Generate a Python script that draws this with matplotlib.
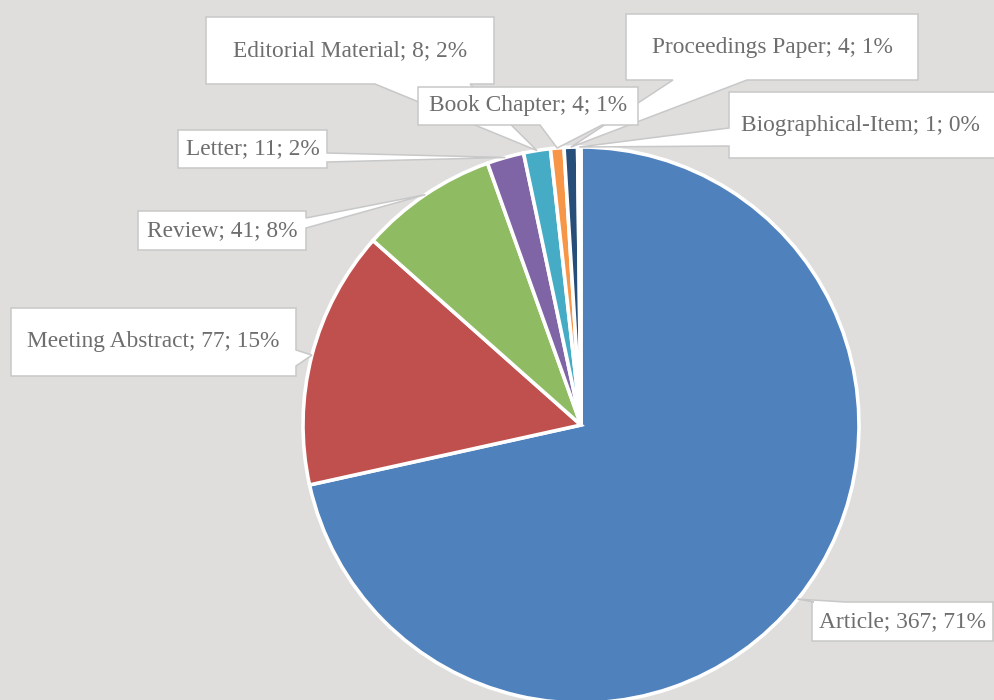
import numpy as np
import matplotlib.pyplot as plt
from matplotlib.patches import Polygon

categories = ["Article", "Meeting Abstract", "Review", "Letter",
              "Editorial Material", "Book Chapter", "Proceedings Paper",
              "Biographical-Item"]
counts = [367, 77, 41, 11, 8, 4, 4, 1]
percents = [71, 15, 8, 2, 2, 1, 1, 0]
colors = ["#4F81BD", "#C0504D", "#8FBB63", "#7F65A5",
          "#46ACC6", "#F79646", "#274E78", "#772C2A"]

W, H = 995, 700
BG = "#DFDEDD"
TXT = "#6E6E6E"
EDGE = "#C8C8C8"
FS = 16.8

# callout layout in pixel coords (top-left origin): box, side of the wedge, wedge base
callouts = {
    "Editorial Material": ((206, 17, 494, 84), "bottom", (375, 470), 3),
    "Proceedings Paper": ((626, 14, 918, 80), "bottom", (673, 747), 4),
    "Biographical-Item": ((729, 92, 1010, 158), "left", (128, 146), 5),
    "Book Chapter": ((418, 87, 638, 125), "bottom", (540, 602), 6),
    "Letter": ((178, 130, 327, 168), "right", (153, 162), 7),
    "Review": ((138, 211, 306, 250), "right", (218, 228), 8),
    "Meeting Abstract": ((11, 308, 296, 376), "right", (350, 366), 9),
    "Article": ((812, 602, 993, 641), "top", (814, 845), 10),
}


def fy(y):
    return H - y


def callout_poly(box, side, base, tip):
    x0, y0, x1, y1 = box[0], fy(box[1]), box[2], fy(box[3])
    a, b = base
    if side == "bottom":
        pts = [(x0, y0), (x1, y0), (x1, y1), (b, y1), tip, (a, y1), (x0, y1)]
    elif side == "top":
        pts = [(x0, y0), (a, y0), tip, (b, y0), (x1, y0), (x1, y1), (x0, y1)]
    elif side == "right":
        pts = [(x0, y0), (x1, y0), (x1, fy(a)), tip, (x1, fy(b)), (x1, y1), (x0, y1)]
    else:
        pts = [(x0, y0), (x1, y0), (x1, y1), (x0, y1), (x0, fy(b)), tip, (x0, fy(a))]
    return pts


fig = plt.figure(figsize=(W / 100, H / 100), dpi=100, facecolor=BG)
ax = fig.add_axes([0, 0, 1, 1])
ax.set_facecolor(BG)

center = (581, fy(425))
radius = 278
wedges, _ = ax.pie(counts, colors=colors, startangle=90, counterclock=False,
                   center=center, radius=radius, frame=True,
                   wedgeprops=dict(edgecolor="white", linewidth=2.6))
ax.set_xlim(0, W)
ax.set_ylim(0, H)
ax.set_aspect("equal")
ax.axis("off")

for w, cat, n, p in zip(wedges, categories, counts, percents):
    mid = np.deg2rad((w.theta1 + w.theta2) / 2)
    tip = (center[0] + radius * np.cos(mid), center[1] + radius * np.sin(mid))
    box, side, base, z = callouts[cat]
    poly = Polygon(callout_poly(box, side, base, tip), closed=True,
                   facecolor="white", edgecolor=EDGE, linewidth=1.1, zorder=z)
    ax.add_patch(poly)
    label = f"{cat}; {n}; {p}%"
    if cat == "Biographical-Item":
        ax.text(741, fy((box[1] + box[3]) / 2), label, ha="left", va="center",
                fontsize=FS, color=TXT, family="Liberation Serif", zorder=z)
    else:
        ax.text((box[0] + box[2]) / 2, fy((box[1] + box[3]) / 2), label,
                ha="center", va="center", fontsize=FS, color=TXT,
                family="Liberation Serif", zorder=z)

fig.savefig("out.png", dpi=100, facecolor=BG)
